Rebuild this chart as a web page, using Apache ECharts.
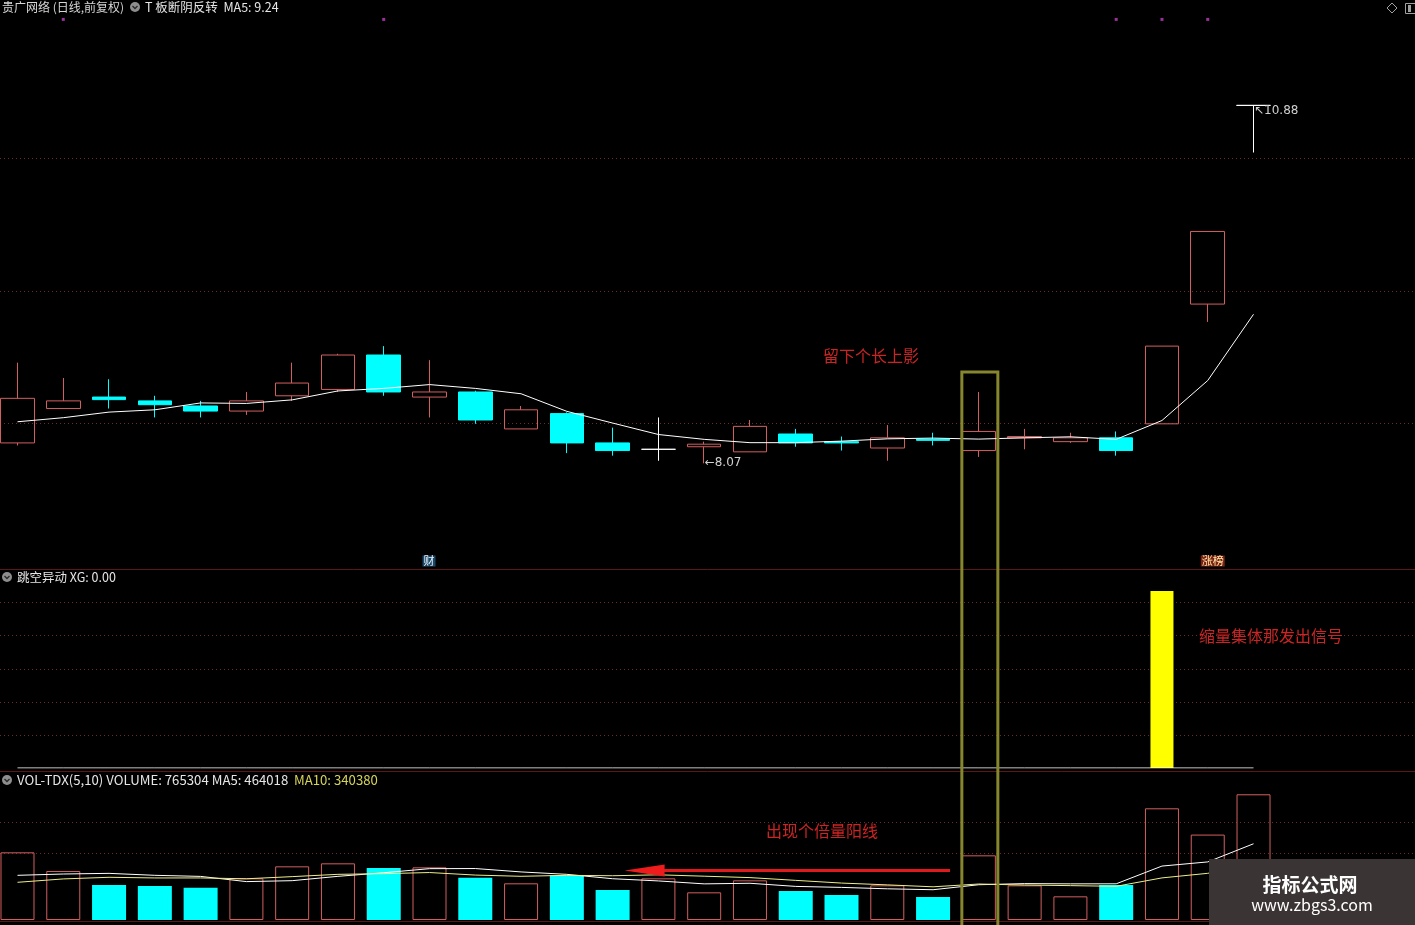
<!DOCTYPE html>
<html><head><meta charset="utf-8">
<script src="https://cdn.jsdelivr.net/npm/echarts@6/dist/echarts.min.js"></script>
<style>html,body{margin:0;padding:0;background:#000;overflow:hidden}#c{width:1415px;height:925px}</style>
</head><body><div id="c"></div>
<script>
// ---- data ----
const categories = ['D01','D02','D03','D04','D05','D06','D07','D08','D09','D10','D11','D12','D13','D14','D15','D16','D17','D18','D19','D20','D21','D22','D23','D24','D25','D26','D27','D28'];
const opens  = [8.23,8.50,8.59,8.56,8.52,8.48,8.60,8.65,8.92,8.59,8.63,8.34,8.46,8.23,8.18,8.20,8.16,8.30,8.24,8.19,8.26,8.17,8.27,8.24,8.27,8.38,9.32,10.88];
const closes = [8.58,8.56,8.57,8.53,8.48,8.56,8.70,8.92,8.63,8.63,8.41,8.49,8.23,8.17,8.18,8.22,8.36,8.23,8.23,8.27,8.25,8.32,8.28,8.27,8.17,8.99,9.89,10.88];
const highs  = [8.86,8.74,8.73,8.60,8.56,8.63,8.86,8.93,8.99,8.88,8.64,8.52,8.47,8.35,8.43,8.24,8.41,8.34,8.28,8.37,8.31,8.63,8.34,8.31,8.32,8.99,9.89,10.88];
const lows   = [8.21,8.50,8.50,8.43,8.43,8.45,8.56,8.63,8.60,8.43,8.38,8.34,8.15,8.13,8.09,8.07,8.16,8.20,8.17,8.09,8.21,8.12,8.18,8.23,8.13,8.38,9.18,10.51];
const ma5    = [8.396,8.428,8.472,8.490,8.544,8.540,8.568,8.638,8.658,8.688,8.658,8.616,8.478,8.386,8.296,8.258,8.232,8.232,8.244,8.262,8.268,8.260,8.270,8.278,8.258,8.406,8.720,9.240];
const volumes = [412000,298300,213000,207000,196700,253600,326700,345000,316600,320600,257700,223300,272000,182600,253600,168400,241500,176600,152200,211000,140000,393700,211000,144100,213000,680000,520000,765304];
const volMa5  = [272000,280000,284000,272000,265400,233720,239400,265800,287720,312500,313320,292640,278040,251240,237840,219980,223620,204540,198460,189940,184260,214700,221580,219960,220360,328360,353620,464018];
const volMa10 = [229500,250000,260000,256000,256000,251000,264000,278000,282000,288950,273520,266020,271920,269480,275170,266650,258130,241290,224850,213890,202120,219160,213060,209210,205150,256310,284160,340380];
const xgValues = [0,0,0,0,0,0,0,0,0,0,0,0,0,0,0,0,0,0,0,0,0,0,0,0,0,0,0,0];
const signalBars = [null,null,null,null,null,null,null,null,null,null,null,null,null,null,null,null,null,null,null,null,null,null,null,null,null,5.34,null,null];
const markerDays = [1, 8, 24, 25, 26];
const priceGridLines = [8.383, 9.424, 10.465];
const xgGridLines = [1, 2, 3, 4, 5];
const volGridLines = [406000, 598000];
const lowLabel = {day: 15, value: 8.07, text: '←8.07'};
const highLabel = {day: 27, value: 10.88, text: '↖10.88'};

// ---- styles ----
const RED = '#d25f5f', CYAN = '#00ffff', GRIDC = '#6a2d2d', SEP = '#5e1717';
const FONT = '"Noto Sans CJK SC", "Noto Sans", sans-serif';

const chart = echarts.init(document.getElementById('c'), null, {renderer: 'canvas'});

const candleData = categories.map((c, i) => {
  const item = {value: [opens[i], closes[i], lows[i], highs[i]]};
  if (opens[i] === closes[i]) {
    item.itemStyle = {color: '#ffffff', color0: '#ffffff', borderColor: '#ffffff', borderColor0: '#ffffff', borderColorDoji: '#ffffff'};
  }
  return item;
});
const volData = volumes.map((v, i) => ({
  value: v,
  itemStyle: closes[i] >= opens[i]
    ? {color: 'rgba(0,0,0,0)', borderColor: RED, borderWidth: 1}
    : {color: CYAN, borderColor: CYAN, borderWidth: 0}
}));

const gridCommon = {left: -5.39, width: 1281.8, outerBoundsMode: 'none', containLabel: false, show: false};
const hiddenX = idx => ({type: 'category', gridIndex: idx, data: categories, boundaryGap: true, show: false});

chart.setOption({
  animation: false,
  backgroundColor: '#000',
  grid: [
    Object.assign({top: 18, height: 550}, gridCommon),
    Object.assign({top: 569, height: 199}, gridCommon),
    Object.assign({top: 772, height: 148}, gridCommon)
  ],
  xAxis: [hiddenX(0), hiddenX(1), hiddenX(2)],
  yAxis: [
    {type: 'value', gridIndex: 0, min: 7.248, max: 11.566, show: false},
    {type: 'value', gridIndex: 1, min: 0, max: 6, show: false},
    {type: 'value', gridIndex: 2, min: 0, max: 901000, show: false}
  ],
  series: [
    {
      type: 'candlestick', xAxisIndex: 0, yAxisIndex: 0, barWidth: 34,
      itemStyle: {color: 'rgba(0,0,0,0)', color0: CYAN, borderColor: RED, borderColor0: CYAN, borderWidth: 1},
      data: candleData,
      markPoint: {
        symbol: 'circle', symbolSize: 1, itemStyle: {color: 'rgba(0,0,0,0)'}, silent: true,
        label: {show: true, position: 'right', distance: 0, color: '#d0d0d0', fontSize: 12, fontFamily: 'DejaVu Sans'},
        data: [
          {coord: [categories[lowLabel.day], lowLabel.value], label: {formatter: lowLabel.text, offset: [0, 0]}},
          {coord: [categories[highLabel.day], highLabel.value], label: {formatter: highLabel.text, offset: [0, 5]}}
        ]
      }
    },
    {type: 'line', xAxisIndex: 0, yAxisIndex: 0, data: ma5, symbol: 'none', z: 4,
     lineStyle: {color: '#ffffff', width: 1}},
    {type: 'scatter', xAxisIndex: 0, yAxisIndex: 0, symbol: 'rect', symbolSize: 3, z: 4,
     itemStyle: {color: '#c23fc2'}, data: markerDays.map(d => [categories[d], 11.555])},
    {type: 'bar', xAxisIndex: 1, yAxisIndex: 1, barWidth: 23, data: signalBars,
     itemStyle: {color: '#ffff00'}},
    {type: 'line', xAxisIndex: 1, yAxisIndex: 1, data: xgValues, symbol: 'none', z: 4,
     lineStyle: {color: '#ffffff', width: 1}},
    {type: 'bar', xAxisIndex: 2, yAxisIndex: 2, barWidth: 34, data: volData},
    {type: 'line', xAxisIndex: 2, yAxisIndex: 2, data: volMa5, symbol: 'none', z: 4,
     lineStyle: {color: '#ffffff', width: 1}},
    {type: 'line', xAxisIndex: 2, yAxisIndex: 2, data: volMa10, symbol: 'none', z: 5,
     lineStyle: {color: '#eeee88', width: 1}}
  ]
});

// ---- overlay graphics, positioned through the chart's own scales ----
const xPix = i => chart.convertToPixel({xAxisIndex: 0}, categories[i]);
const yPix = (axis, v) => chart.convertToPixel({yAxisIndex: axis}, v);
const g = [];
const hline = (y, color, dash, z) => g.push({type: 'line', silent: true, z: z || 0,
  shape: {x1: 0, y1: Math.round(y) + 0.5, x2: 1415, y2: Math.round(y) + 0.5},
  style: {stroke: color, lineWidth: 1, lineDash: dash || null}});
priceGridLines.forEach(v => hline(yPix(0, v), GRIDC, [1, 3]));
xgGridLines.forEach(v => hline(yPix(1, v), GRIDC, [1, 3]));
volGridLines.forEach(v => hline(yPix(2, v), GRIDC, [1, 3]));
hline(569, SEP); hline(771, SEP); hline(921, SEP);

const txt = (text, x, y, fill, size, extra) => g.push(Object.assign({type: 'text', silent: true, z: 20,
  style: Object.assign({text, x, y, fill, font: (size || 12) + 'px ' + FONT,
    textAlign: 'left', textVerticalAlign: 'middle', align: 'left', verticalAlign: 'middle'}, extra || {})}));
const icon = (cx, cy) => {
  g.push({type: 'circle', silent: true, z: 20, shape: {cx, cy, r: 5}, style: {fill: '#8e8e8e'}});
  g.push({type: 'polyline', silent: true, z: 21, shape: {points: [[cx - 2.5, cy - 1], [cx, cy + 1.5], [cx + 2.5, cy - 1]]}, style: {stroke: '#2a2a2a', lineWidth: 1.4, fill: null}});
};
// headers
txt('贵广网络 (日线,前复权)', 2, 7, '#d6d6d6', 12);
icon(135, 7);
txt('T 板断阴反转  MA5: 9.24', 145, 7, '#e6e6e6', 12.5);
icon(7, 577);
txt('跳空异动 XG: 0.00', 17, 577, '#e6e6e6', 12.5);
icon(7, 780);
txt('VOL-TDX(5,10) VOLUME: 765304 MA5: 464018', 17, 780, '#e6e6e6', 13.2);
txt('MA10: 340380', 294, 780, '#d6d458', 13.2);
// top-right icons
g.push({type: 'polygon', silent: true, z: 20, shape: {points: [[1392, 3], [1397, 8], [1392, 13], [1387, 8]]}, style: {stroke: '#a0a0a0', fill: null, lineWidth: 1}});
g.push({type: 'rect', silent: true, z: 20, shape: {x: 1405.5, y: 3.5, width: 12, height: 10}, style: {stroke: '#a0a0a0', fill: null, lineWidth: 1}});
g.push({type: 'rect', silent: true, z: 20, shape: {x: 1408, y: 5, width: 3, height: 7}, style: {fill: '#a0a0a0'}});

// tags at bottom of the price panel
const tag = (text, day, bg, fg) => g.push({type: 'text', silent: true, z: 20,
  style: {text, x: xPix(day) - 7, y: 561, fill: fg, backgroundColor: bg, padding: [0, 1, 0, 1],
    font: '11px ' + FONT, textAlign: 'left', textVerticalAlign: 'middle', align: 'left', verticalAlign: 'middle'}});
tag('财', 9, '#1c4766', '#e8f4ff');
tag('涨榜', 26, '#7a2212', '#ffe6a8');

// olive highlight box around day 22
const cx21 = xPix(21);
g.push({type: 'rect', silent: true, z: 15, shape: {x: cx21 - 17, y: 372, width: 36, height: 560},
  style: {stroke: '#86862e', fill: null, lineWidth: 3}});

// red arrow in the volume panel
const tailX = xPix(20) + 17, tipX = xPix(13) + 12, arrowY = 870.5;
g.push({type: 'line', silent: true, z: 15, shape: {x1: tipX + 38, y1: arrowY, x2: tailX, y2: arrowY}, style: {stroke: '#e01a1a', lineWidth: 3}});
g.push({type: 'polygon', silent: true, z: 15, shape: {points: [[tipX, arrowY], [tipX + 40, arrowY - 6], [tipX + 40, arrowY + 6]]}, style: {fill: '#ee1c1c'}});

// red annotations
txt('留下个长上影', 823, 356, '#cc2424', 16);
txt('缩量集体那发出信号', 1199, 636, '#cc2424', 16);
txt('出现个倍量阳线', 766, 831, '#cc2424', 16);

// watermark
g.push({type: 'rect', silent: true, z: 30, shape: {x: 1209, y: 859, width: 206, height: 66}, style: {fill: '#3b3434'}});
g.push({type: 'text', silent: true, z: 31, style: {text: '指标公式网', x: 1310, y: 885, fill: '#ffffff', font: 'bold 19px ' + FONT, textAlign: 'center', textVerticalAlign: 'middle', align: 'center', verticalAlign: 'middle'}});
g.push({type: 'text', silent: true, z: 31, style: {text: 'www.zbgs3.com', x: 1312, y: 905, fill: '#ffffff', font: '16px ' + FONT, textAlign: 'center', textVerticalAlign: 'middle', align: 'center', verticalAlign: 'middle'}});

chart.setOption({graphic: {elements: g}});
</script>
</body></html>
